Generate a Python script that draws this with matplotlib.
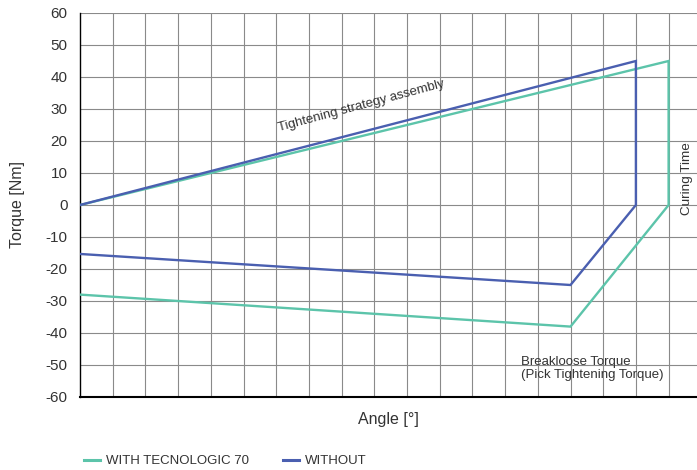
import matplotlib.pyplot as plt
from matplotlib.lines import Line2D

plt.rcParams['font.family'] = ['Liberation Sans', 'DejaVu Sans']
plt.rcParams['axes.unicode_minus'] = False

# path of each curve: (angle grid units, torque Nm)
with_x = [0, 18, 18, 15, 0]
with_y = [0, 45, 0, -38, -28]
without_x = [0, 17, 17, 15, 0]
without_y = [0, 45, 0, -25, -15.3]

green = '#5cc4aa'
blue = '#4a5fb0'
txt = '#333333'

fig = plt.figure(figsize=(6.97, 4.70), dpi=100)
ax = fig.add_axes([80/697, 1 - 397/470, 1 - 80/697, (397 - 13)/470])

ax.plot(with_x, with_y, color=green, lw=1.7, solid_joinstyle='miter', zorder=3)
ax.plot(without_x, without_y, color=blue, lw=1.7, solid_joinstyle='miter', zorder=3)

ax.set_xlim(0, 617/32.7)
ax.set_ylim(-60, 60)
ax.set_yticks(range(-60, 61, 10))
ax.set_xticks(range(1, 19))
ax.tick_params(axis='x', length=0, labelbottom=False)
ax.tick_params(axis='y', length=0, labelsize=11, labelcolor=txt, pad=9)
ax.grid(True, color='#8a8a8a', lw=0.8)

for s in ['top', 'right']:
    ax.spines[s].set_visible(False)
ax.spines['left'].set_color('black')
ax.spines['bottom'].set_color('black')
ax.spines['left'].set_linewidth(1.0)
ax.spines['bottom'].set_linewidth(1.5)

ax.set_ylabel('Torque [Nm]', fontsize=11.5, color=txt, labelpad=15)
ax.set_xlabel('Angle [°]', fontsize=11.5, color=txt, labelpad=11)

ax.text(8.6, 31, 'Tightening strategy assembly', rotation=15, fontsize=9.5,
        color=txt, ha='center', va='center')
ax.text(18.55, 8.1, 'Curing Time', rotation=90, fontsize=9.7,
        color=txt, ha='center', va='center')
ax.text(13.5, -47.2, 'Breakloose Torque\n(Pick Tightening Torque)', fontsize=9.5,
        color=txt, ha='left', va='top', linespacing=1.1)

handles = [Line2D([], [], color=green, lw=2.2), Line2D([], [], color=blue, lw=2.2)]
fig.legend(handles, ['WITH TECNOLOGIC 70', 'WITHOUT'], loc='center left',
           bbox_to_anchor=(72/697, 1 - 461/470), ncol=2, frameon=False,
           fontsize=9.5, handlelength=1.2, handletextpad=0.45, columnspacing=2.6,
           labelcolor=txt)

fig.savefig('out.png', dpi=100)
